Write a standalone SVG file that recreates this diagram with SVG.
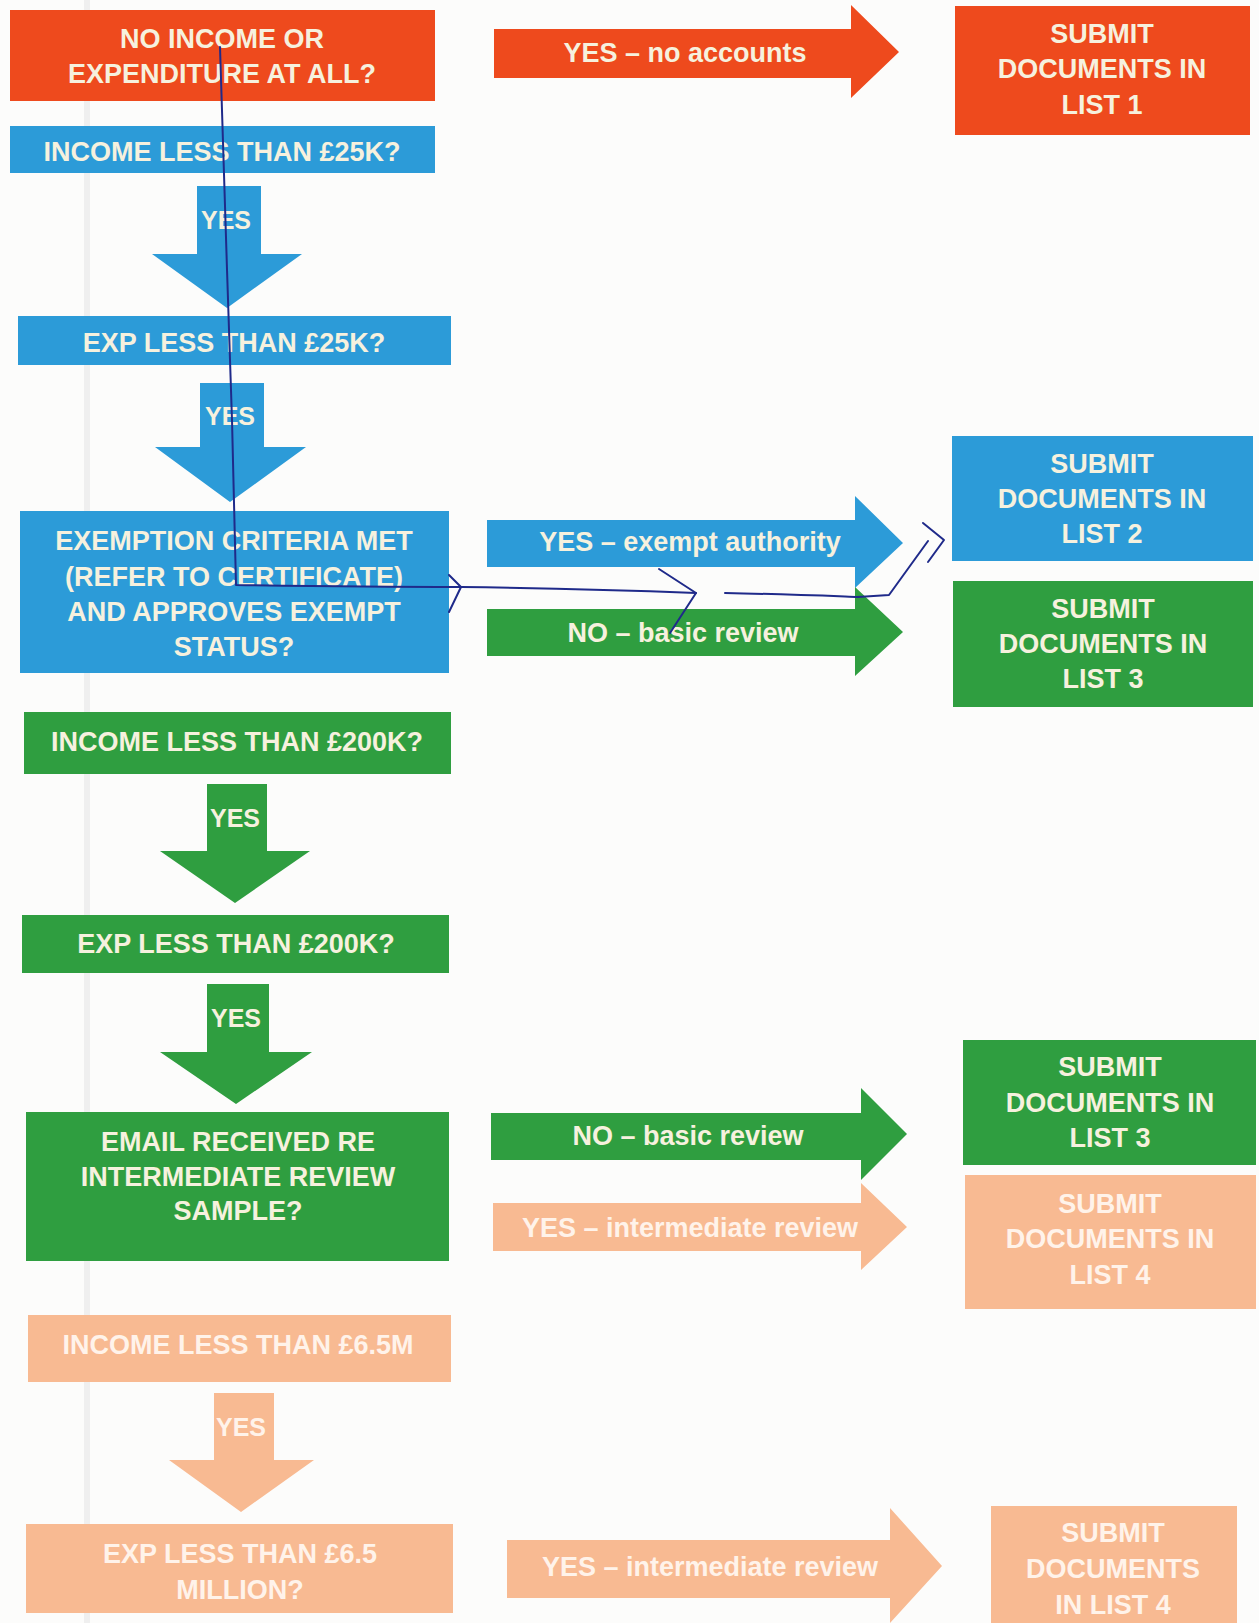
<svg xmlns="http://www.w3.org/2000/svg" width="1259" height="1623" viewBox="0 0 1259 1623">
<style>
.t{font-family:"Liberation Sans",Arial,sans-serif;font-weight:bold;font-size:27px;text-anchor:middle;fill:#F6F1DE}
.y{font-size:25px}
.tp{fill:#FFF3EA}
.red{fill:#EE4A1D}
.blue{fill:#2C9BD8}
.green{fill:#2F9E40}
.peach{fill:#F8BA92}
.pen{fill:none;stroke:#1F2A8A;stroke-width:2;stroke-linecap:round;stroke-linejoin:round}
</style>
<rect width="1259" height="1623" fill="#FCFCFB"/>
<line x1="87" y1="0" x2="87" y2="1623" stroke="#EFEFEF" stroke-width="6"/>

<g id="n1"><rect class="red" x="10" y="10" width="425" height="91"/>
<text class="t" x="222" y="48">NO INCOME OR</text><text class="t" x="222" y="83">EXPENDITURE AT ALL?</text></g>
<g id="list1"><rect class="red" x="955" y="6" width="295" height="129"/>
<text class="t" x="1102" y="43">SUBMIT</text><text class="t" x="1102" y="78">DOCUMENTS IN</text><text class="t" x="1102" y="114">LIST 1</text></g>
<g id="n2"><rect class="blue" x="10" y="126" width="425" height="47"/>
<text class="t" x="222" y="161">INCOME LESS THAN £25K?</text></g>
<g id="n3"><rect class="blue" x="18" y="316" width="433" height="49"/>
<text class="t" x="234" y="352">EXP LESS THAN £25K?</text></g>
<g id="n4"><rect class="blue" x="20" y="511" width="429" height="162"/>
<text class="t" x="234" y="550">EXEMPTION CRITERIA MET</text><text class="t" x="234" y="586">(REFER TO CERTIFICATE)</text><text class="t" x="234" y="621">AND APPROVES EXEMPT</text><text class="t" x="234" y="656">STATUS?</text></g>
<g id="list2"><rect class="blue" x="952" y="436" width="301" height="125"/>
<text class="t" x="1102" y="473">SUBMIT</text><text class="t" x="1102" y="508">DOCUMENTS IN</text><text class="t" x="1102" y="543">LIST 2</text></g>
<g id="list3a"><rect class="green" x="953" y="581" width="300" height="126"/>
<text class="t" x="1103" y="618">SUBMIT</text><text class="t" x="1103" y="653">DOCUMENTS IN</text><text class="t" x="1103" y="688">LIST 3</text></g>
<g id="n5"><rect class="green" x="24" y="712" width="427" height="62"/>
<text class="t" x="237" y="751">INCOME LESS THAN £200K?</text></g>
<g id="n6"><rect class="green" x="22" y="915" width="427" height="58"/>
<text class="t" x="236" y="953">EXP LESS THAN £200K?</text></g>
<g id="n7"><rect class="green" x="26" y="1112" width="423" height="149"/>
<text class="t" x="238" y="1151">EMAIL RECEIVED RE</text><text class="t" x="238" y="1186">INTERMEDIATE REVIEW</text><text class="t" x="238" y="1220">SAMPLE?</text></g>
<g id="list3b"><rect class="green" x="963" y="1040" width="293" height="125"/>
<text class="t" x="1110" y="1076">SUBMIT</text><text class="t" x="1110" y="1112">DOCUMENTS IN</text><text class="t" x="1110" y="1147">LIST 3</text></g>
<g id="list4a"><rect class="peach" x="965" y="1175" width="291" height="134"/>
<text class="t tp" x="1110" y="1213">SUBMIT</text><text class="t tp" x="1110" y="1248">DOCUMENTS IN</text><text class="t tp" x="1110" y="1284">LIST 4</text></g>
<g id="n8"><rect class="peach" x="28" y="1315" width="423" height="67"/>
<text class="t tp" x="238" y="1354">INCOME LESS THAN £6.5M</text></g>
<g id="n9"><rect class="peach" x="26" y="1524" width="427" height="89"/>
<text class="t tp" x="240" y="1563">EXP LESS THAN £6.5</text><text class="t tp" x="240" y="1599">MILLION?</text></g>
<g id="list4b"><rect class="peach" x="991" y="1506" width="246" height="117"/>
<text class="t tp" x="1113" y="1542">SUBMIT</text><text class="t tp" x="1113" y="1578">DOCUMENTS</text><text class="t tp" x="1113" y="1614">IN LIST 4</text></g>

<g id="connectors">
<path class="red" d="M494 29H851V5L899 52L851 98V78H494Z"/>
<text class="t" x="685" y="62">YES – no accounts</text>
<path class="blue" d="M197 186H261V254H302L227 308L152 254H197Z"/>
<text class="t y" x="226" y="229">YES</text>
<path class="blue" d="M200 383H264V447H306L230 502L155 447H200Z"/>
<text class="t y" x="230" y="425">YES</text>
<path class="blue" d="M487 520H855V496L903 543L855 588V567H487Z"/>
<text class="t" x="690" y="551">YES – exempt authority</text>
<path class="green" d="M487 609H855V587L903 632L855 676V656H487Z"/>
<text class="t" x="683" y="642">NO – basic review</text>
<path class="green" d="M207 784H267V851H310L235 903L160 851H207Z"/>
<text class="t y" x="235" y="827">YES</text>
<path class="green" d="M207 984H269V1052H312L236 1104L160 1052H207Z"/>
<text class="t y" x="236" y="1027">YES</text>
<path class="green" d="M491 1113H861V1088L907 1134L861 1180V1160H491Z"/>
<text class="t" x="688" y="1145">NO – basic review</text>
<path class="peach" d="M493 1203H861V1183L907 1227L861 1270V1251H493Z"/>
<text class="t tp" x="690" y="1237">YES – intermediate review</text>
<path class="peach" d="M214 1393H274V1460H314L241 1512L169 1460H214Z"/>
<text class="t tp y" x="241" y="1436">YES</text>
<path class="peach" d="M507 1540H890V1508L942 1566L890 1623V1598H507Z"/>
<text class="t tp" x="710" y="1576">YES – intermediate review</text>
<g id="handline">
<path class="pen" d="M220 47C223 150 228 300 232 420C234 500 235 550 236 585C300 586 380 587 461 587C540 588 620 590 696 593"/>
<path class="pen" d="M449 575L461 587L449 612"/>
<path class="pen" d="M659 569L696 593L670 633"/>
<path class="pen" d="M725 593C780 594 830 596 858 597L889 595L928 541"/>
<path class="pen" d="M923 523L944 540L928 562"/>
</g>
</g>
</svg>
